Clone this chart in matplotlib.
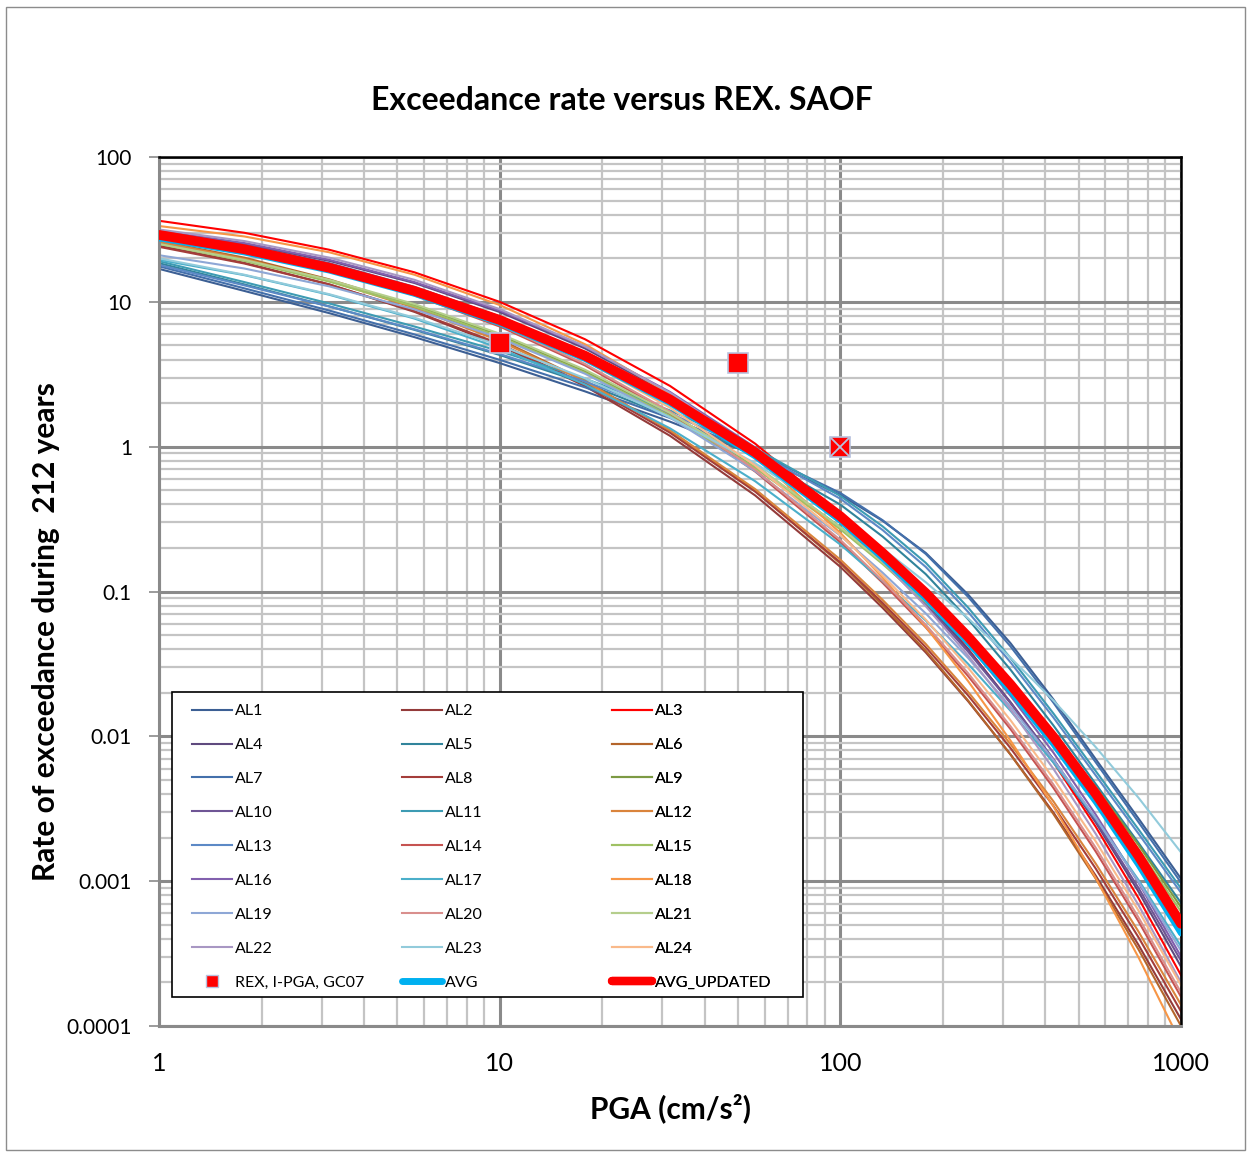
import matplotlib
matplotlib.use("Agg")
import matplotlib.pyplot as plt
from matplotlib.lines import Line2D
from matplotlib.patches import Rectangle
from matplotlib.ticker import LogLocator, NullFormatter

# PGA grid (cm/s2): quarter-decade steps, eighth-decade above 100
pga = [1, 1.78, 3.16, 5.62, 10, 17.8, 31.6, 56.2, 100, 133, 178, 237, 316, 422, 562, 750, 1000]

# exceedance rates during 212 years, one list per branch
AL1 = [16.9, 11.9, 8.36, 5.71, 3.78, 2.41, 1.49, 0.875, 0.465, 0.308, 0.185, 0.0954, 0.0439, 0.0180, 0.00695, 0.00271, 0.00104]
AL2 = [24.5, 18.6, 13.2, 8.53, 5.01, 2.62, 1.19, 0.461, 0.148, 0.0772, 0.0380, 0.0175, 0.00749, 0.00298, 0.00109, 0.000363, 0.000111]
AL3 = [36.3, 30.0, 22.9, 16.0, 10.0, 5.52, 2.63, 1.05, 0.343, 0.179, 0.0879, 0.0402, 0.0170, 0.00664, 0.00237, 0.000764, 0.000224]
AL4 = [30.2, 25.0, 19.2, 13.5, 8.51, 4.77, 2.31, 0.947, 0.318, 0.170, 0.0849, 0.0397, 0.0172, 0.00691, 0.00254, 0.000847, 0.000257]
AL5 = [18.5, 13.2, 9.31, 6.41, 4.30, 2.74, 1.61, 0.867, 0.398, 0.240, 0.132, 0.0645, 0.0288, 0.0119, 0.00468, 0.00184, 0.000708]
AL6 = [26.3, 20.2, 14.3, 9.35, 5.50, 2.86, 1.29, 0.496, 0.156, 0.0806, 0.0391, 0.0177, 0.00747, 0.00291, 0.00104, 0.000338, 0.000100]
AL7 = [17.6, 12.4, 8.71, 5.96, 3.98, 2.57, 1.58, 0.923, 0.479, 0.311, 0.182, 0.0920, 0.0417, 0.0171, 0.00661, 0.00256, 0.000977]
AL8 = [24.0, 18.4, 13.2, 8.63, 5.13, 2.71, 1.25, 0.490, 0.159, 0.0836, 0.0413, 0.0192, 0.00828, 0.00331, 0.00122, 0.000410, 0.000126]
AL9 = [25.7, 19.6, 14.1, 9.50, 5.89, 3.32, 1.67, 0.737, 0.279, 0.161, 0.0880, 0.0457, 0.0224, 0.0104, 0.00446, 0.00178, 0.000661]
AL10 = [30.5, 24.6, 18.5, 12.7, 7.94, 4.41, 2.13, 0.876, 0.298, 0.160, 0.0811, 0.0385, 0.0170, 0.00696, 0.00262, 0.000899, 0.000282]
AL11 = [19.1, 13.7, 9.75, 6.76, 4.57, 2.95, 1.78, 0.977, 0.457, 0.282, 0.158, 0.0776, 0.0347, 0.0144, 0.00575, 0.00228, 0.000891]
AL12 = [26.0, 19.8, 14.0, 9.10, 5.37, 2.83, 1.30, 0.510, 0.166, 0.0876, 0.0435, 0.0203, 0.00882, 0.00356, 0.00132, 0.000449, 0.000140]
AL13 = [18.0, 13.0, 9.29, 6.47, 4.37, 2.82, 1.70, 0.933, 0.437, 0.266, 0.148, 0.0724, 0.0324, 0.0135, 0.00537, 0.00213, 0.000832]
AL14 = [28.2, 22.4, 16.5, 11.1, 6.76, 3.64, 1.70, 0.674, 0.219, 0.115, 0.0566, 0.0261, 0.0112, 0.00441, 0.00160, 0.000528, 0.000159]
AL15 = [25.1, 19.2, 13.8, 9.30, 5.75, 3.24, 1.63, 0.715, 0.269, 0.155, 0.0845, 0.0438, 0.0214, 0.00982, 0.00421, 0.00167, 0.000617]
AL16 = [30.9, 25.5, 19.5, 13.7, 8.71, 4.90, 2.39, 0.990, 0.338, 0.181, 0.0916, 0.0433, 0.0190, 0.00772, 0.00288, 0.000977, 0.000302]
AL17 = [19.5, 15.3, 11.2, 7.67, 4.79, 2.69, 1.34, 0.578, 0.211, 0.118, 0.0631, 0.0317, 0.0150, 0.00659, 0.00270, 0.00102, 0.000355]
AL18 = [33.4, 28.3, 22.0, 15.4, 9.51, 5.10, 2.31, 0.860, 0.254, 0.125, 0.0571, 0.0241, 0.00933, 0.00329, 0.00105, 0.000298, 0.0000759]
AL19 = [21.0, 17.0, 12.8, 8.88, 5.62, 3.19, 1.59, 0.680, 0.243, 0.135, 0.0707, 0.0348, 0.0160, 0.00688, 0.00273, 0.000991, 0.000331]
AL20 = [28.8, 22.9, 16.8, 11.4, 6.92, 3.73, 1.75, 0.694, 0.227, 0.119, 0.0590, 0.0273, 0.0117, 0.00465, 0.00170, 0.000562, 0.000170]
AL21 = [25.1, 19.5, 14.2, 9.66, 6.03, 3.40, 1.71, 0.747, 0.278, 0.159, 0.0858, 0.0439, 0.0212, 0.00955, 0.00402, 0.00156, 0.000562]
AL22 = [31.6, 26.3, 20.2, 14.2, 8.91, 4.94, 2.36, 0.946, 0.309, 0.162, 0.0793, 0.0362, 0.0153, 0.00597, 0.00212, 0.000684, 0.000200]
AL23 = [20.0, 15.4, 11.3, 7.78, 5.01, 2.97, 1.60, 0.769, 0.324, 0.198, 0.116, 0.0653, 0.0349, 0.0177, 0.00842, 0.00377, 0.00158]
AL24 = [29.5, 23.5, 17.4, 11.8, 7.24, 3.94, 1.86, 0.743, 0.245, 0.129, 0.0641, 0.0298, 0.0129, 0.00513, 0.00188, 0.000627, 0.000191]
AVG = [27.5, 22.0, 16.5, 11.4, 7.16, 4.05, 2.01, 0.860, 0.309, 0.171, 0.0900, 0.0445, 0.0206, 0.00888, 0.00354, 0.00130, 0.000437]
AVG_UPDATED = [29.0, 23.1, 17.2, 11.9, 7.50, 4.25, 2.12, 0.914, 0.331, 0.185, 0.0979, 0.0488, 0.0228, 0.00993, 0.00401, 0.00149, 0.000508]

# observed exceedances (REX, I-PGA, GC07)
rex_pga = [10, 50, 100]
rex_rate = [5.2, 3.8, 1.0]

branches = [AL1, AL2, AL3, AL4, AL5, AL6, AL7, AL8, AL9, AL10, AL11, AL12,
            AL13, AL14, AL15, AL16, AL17, AL18, AL19, AL20, AL21, AL22, AL23, AL24]
branch_names = ["AL%d" % (i + 1) for i in range(len(branches))]
branch_colors = ["#3C5F94", "#943B3A", "#FF0000", "#5F4A7E", "#31849B", "#B4652B",
                 "#4470AB", "#A43D3A", "#7C9A43", "#6F5595", "#3D9BB3", "#DA843C",
                 "#5C89C6", "#C65351", "#9FC163", "#8260AE", "#4BAFCA", "#F79646",
                 "#8EA7D6", "#D98F8D", "#B5CE8C", "#A897C3", "#92CBDB", "#F9B98A"]

xticks = [1, 10, 100, 1000]
xtick_labels = ["1", "10", "100", "1000"]
yticks = [0.0001, 0.001, 0.01, 0.1, 1, 10, 100]
ytick_labels = ["0.0001", "0.001", "0.01", "0.1", "1", "10", "100"]

FONT = ["Lato", "DejaVu Sans"]

fig = plt.figure(figsize=(12.51, 11.53), dpi=100)
ax = fig.add_axes([0.1271, 0.1101, 0.8170, 0.7537])

for vals, c in zip(branches, branch_colors):
    ax.plot(pga, vals, color=c, lw=1.5, zorder=2)
ax.plot(pga, AVG, color="#00B0F0", lw=4.5, solid_capstyle="round", zorder=3)
ax.plot(pga, AVG_UPDATED, color="#FF0000", lw=7, solid_capstyle="round", zorder=3)
ax.plot(rex_pga, rex_rate, ls="none", marker="s", markersize=14, color="#FF0000",
        markeredgecolor="#B9C2DE", markeredgewidth=1.2, zorder=6)
ax.plot(rex_pga[-1:], rex_rate[-1:], ls="none", marker="x", markersize=14,
        markeredgecolor="#B9C2DE", markeredgewidth=1.3, zorder=7)

ax.set_xscale("log")
ax.set_yscale("log")
ax.set_xlim(1, 1000)
ax.set_ylim(0.0001, 100)

ax.set_axisbelow(True)
ax.xaxis.set_minor_locator(LogLocator(base=10, subs=range(2, 10), numticks=50))
ax.yaxis.set_minor_locator(LogLocator(base=10, subs=range(2, 10), numticks=50))
ax.xaxis.set_minor_formatter(NullFormatter())
ax.yaxis.set_minor_formatter(NullFormatter())
ax.grid(which="major", color="#8A8A8A", lw=2.2)
ax.grid(which="minor", color="#C4C4C4", lw=1.6)

ax.set_xticks(xticks, labels=xtick_labels)
ax.set_yticks(yticks, labels=ytick_labels)
ax.tick_params(which="minor", length=0)
ax.tick_params(axis="y", which="major", length=7, width=1.2, color="#8A8A8A",
               pad=12.5, labelsize=15)
ax.tick_params(axis="x", which="major", length=0, pad=19, labelsize=18)
for lab in ax.get_xticklabels() + ax.get_yticklabels():
    lab.set_family(FONT)

for side in ("top", "right"):
    ax.spines[side].set_color("black")
    ax.spines[side].set_linewidth(1.8)
for side in ("left", "bottom"):
    ax.spines[side].set_color("#8A8A8A")
    ax.spines[side].set_linewidth(2.2)

fig.text(0.4975, 0.913, "Exceedance rate versus REX. SAOF", ha="center", va="center",
         fontsize=23, fontweight="bold", family=FONT)
ax.set_xlabel("PGA (cm/s\u00b2)", fontsize=21.5, fontweight="bold", family=FONT)
ax.xaxis.set_label_coords(0.5, -0.0771)
ax.set_ylabel("Rate of exceedance during  212 years", fontsize=21.5, fontweight="bold",
              family=FONT)
ax.yaxis.set_label_coords(-0.097, 0.4534)

# legend: white box with three columns, filled row by row
ax.add_patch(Rectangle((0.0127, 0.0334), 0.6175, 0.3509, transform=ax.transAxes,
                       facecolor="white", edgecolor="black", lw=1.2, zorder=4))
handles = [Line2D([], [], color=c, lw=1.5) for c in branch_colors]
handles.append(Line2D([], [], ls="none", marker="s", markersize=8, color="#FF0000",
                      markeredgecolor="#B9C2DE"))
handles.append(Line2D([], [], color="#00B0F0", lw=5, solid_capstyle="round"))
handles.append(Line2D([], [], color="#FF0000", lw=6, solid_capstyle="round"))
names = branch_names + ["REX, I-PGA, GC07", "AVG", "AVG_UPDATED"]

col_x = [0.0323, 0.2378, 0.4432]
for j, x0 in enumerate(col_x):
    leg = ax.legend(handles[j::3], names[j::3], loc="upper left",
                    bbox_to_anchor=(x0, 0.3705), bbox_transform=ax.transAxes,
                    frameon=False, borderpad=0, borderaxespad=0, handlelength=2.5,
                    handletextpad=0.2, labelspacing=1.235,
                    prop={"family": FONT, "size": 11.5})
    leg.set_zorder(5)
    ax.add_artist(leg)

fig.patches.append(Rectangle((6 / 1251, 3 / 1153), 1239 / 1251, 1143 / 1153,
                             transform=fig.transFigure, fill=False,
                             edgecolor="#8C8C8C", lw=1))

fig.savefig("out.png", dpi=100)
